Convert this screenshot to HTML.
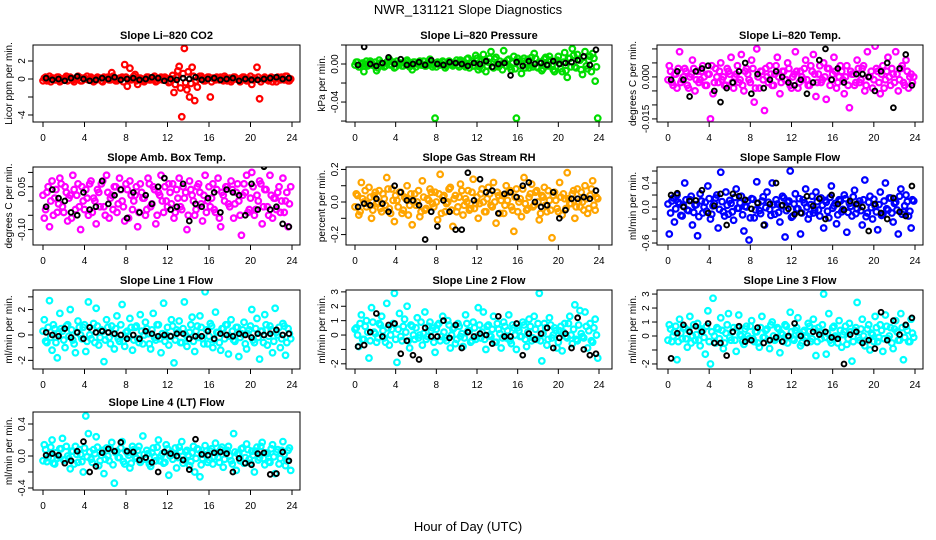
<!DOCTYPE html>
<html><head><meta charset="utf-8"><style>
html,body{margin:0;padding:0;background:#fff;}
svg{display:block;font-family:"Liberation Sans",sans-serif;}
</style></head><body>
<svg id="c" width="936" height="540" viewBox="0 0 936 540">
<text x="468" y="14" text-anchor="middle" font-size="13">NWR_131121  Slope Diagnostics</text>
<text x="468" y="531" text-anchor="middle" font-size="13">Hour of Day (UTC)</text>
</svg>
<script>
// hour tick values shared by all panels
const hourTicks = [0,4,8,12,16,20,24];
// colored series sampled every 0.25 h starting 0.125 h; core series every 0.25 h starting 0 h; black series every 0.6 h starting 0.3 h
const co2Red = [0.1,-0.2,0.3,0.1,-0.1,0.2,-0.3,0.0,0.1,-0.2,0.2,-0.1,0.0,0.3,-0.2,0.1,0.0,-0.1,0.2,-0.3,0.1,0.0,-0.2,0.2,0.1,-0.1,0.7,0.0,-0.2,0.1,0.2,1.6,-0.8,1.2,0.0,0.5,-0.6,0.1,-0.2,0.0,0.2,-0.1,0.1,-0.3,0.0,0.2,-0.1,0.1,-0.4,0.0,-1.5,0.2,1.4,-4.2,3.4,-1.2,-2.0,1.3,-2.4,-0.9,0.3,0.0,-0.2,0.2,-2.0,0.1,-0.1,0.0,0.2,-0.2,0.1,0.0,-0.3,0.2,0.0,-0.1,0.1,0.2,-0.2,0.0,-0.6,0.1,1.3,-2.2,0.0,0.2,-0.1,0.1,-0.3,0.0,0.2,-0.1,0.1,0.3,-0.2,0.0];
const co2RedCore = [-0.2,0.2,0.0,-0.3,0.1,-0.1,0.2,-0.2,0.0,0.3,-0.1,0.1,-0.3,0.0,0.2,-0.2,0.1,0.3,-0.1,0.0,-0.2,0.2,0.1,-0.3,0.0,0.2,-0.1,0.3,-0.2,0.0,0.1,-0.3,0.2,0.0,-0.1,0.3,-0.2,0.1,0.0,-0.3,0.2,-0.1,0.0,0.3,-0.2,0.1,-0.1,0.2,0.0,-0.3,0.4,-0.6,0.9,-1.0,0.6,-0.4,0.8,-0.5,0.3,-0.2,0.1,0.3,-0.2,0.0,0.2,-0.3,0.1,0.2,-0.1,0.0,0.3,-0.2,0.1,-0.1,0.2,0.0,-0.3,0.2,0.1,-0.2,0.3,-0.1,0.0,0.2,-0.3,0.1,0.0,-0.2,0.2,0.1,-0.3,0.0,0.2,-0.1,0.3,-0.2];
const co2Black = [0.1,-0.1,0.0,-0.2,0.1,0.3,0.0,-0.2,-0.1,0.1,0.0,0.2,-0.1,0.0,0.1,-0.1,0.0,0.2,0.1,-0.2,0.0,-0.1,0.1,0.0,0.2,-0.1,0.0,0.1,-0.1,0.0,0.1,-0.2,0.0,-0.1,-0.1,0.0,0.1,0.2,0.0,0.1];
const presGreen = [2,-3,0,-8,3,-1,1,-2,-7,4,0,-3,2,5,-1,-4,3,0,-2,1,4,-3,-6,2,0,3,-1,-2,1,5,-3,-57,2,-1,3,-4,0,2,-2,1,-1,4,0,-3,6,1,-2,9,-6,3,10,-8,2,13,-4,7,-3,0,14,-2,5,-6,8,-57,3,-10,6,1,-4,7,11,-3,2,-7,5,0,8,-2,-8,4,1,-8,12,-14,6,16,-3,10,4,-11,13,-5,8,11,-18,-57];
const presGreenCore = [-1,2,-3,1,0,-2,3,-1,2,-4,1,0,-2,3,-1,2,-3,0,1,-2,3,-1,0,2,-3,1,-1,3,-2,0,2,-1,-3,1,0,2,-2,3,-1,0,4,-3,2,-1,5,-4,3,-2,6,-3,-5,4,-2,6,-3,5,-1,3,-6,2,4,-3,1,-5,6,-2,3,-4,5,-1,-3,6,-4,2,-5,7,-2,4,-6,3,8,-5,2,-7,6,-3,9,-4,5,-6,7,-2,4,-8,6,-3];
const presBlack = [-1,18,0,-2,1,7,0,5,-1,0,2,-1,4,0,-1,2,1,0,-2,1,0,3,-3,0,1,-12,2,-2,3,0,1,-1,3,0,1,2,4,8,-1,15];
const tempMagenta = [4,-2,1,-4,9,-1,3,-3,0,6,-5,2,-1,4,-3,1,-15,-6,3,-2,5,0,-3,2,7,-4,1,-2,8,-5,3,-1,6,-9,10,-4,2,-12,0,4,-3,1,7,-6,2,-1,5,-3,0,9,-4,2,-1,6,-3,4,8,-7,1,-2,5,-8,3,-1,7,-4,0,2,-6,4,-11,1,-3,6,-2,3,-5,9,0,-4,11,2,-6,4,-1,7,-3,1,9,-5,3,-2,6,-4,1,0];
const tempMagentaCore = [-1,2,-3,1,3,-2,0,2,-4,1,3,-1,-2,2,0,-3,1,4,-2,0,2,-1,-3,3,1,-2,0,4,-1,-3,2,1,-2,3,-4,0,2,-1,3,-2,1,-3,4,0,-2,2,-1,3,-4,1,2,-2,0,3,-1,-3,2,1,-2,4,-1,0,3,-3,1,2,-2,4,-1,0,-3,2,1,-2,3,-1,4,-3,0,2,-1,3,-2,1,-4,2,0,3,-2,1,-1,4,-3,2,0,-2];
const tempBlack = [-1,2,-1,-7,2,3,4,-5,-9,-4,-2,2,5,-6,1,-4,-1,2,0,-2,-3,-1,-6,-2,6,10,-1,3,-2,-20,1,1,0,-5,2,5,-11,3,8,-3];
const boxMagenta = [-6,3,-9,7,1,-4,8,-2,5,-7,2,9,-3,6,-10,0,4,-5,7,1,-8,3,6,-2,9,-6,2,5,-4,8,0,-7,4,7,-3,2,-9,6,1,-5,8,-2,5,-8,3,9,-4,0,6,-1,-6,4,8,-3,1,-10,7,2,-5,5,3,-7,9,0,-2,6,-4,8,-9,2,5,-1,7,-6,3,0,-12,6,9,-3,10,-5,2,7,-8,4,-2,9,-6,1,3,-4,8,0,-9,5];
const boxMagentaCore = [2,-3,5,0,-5,4,-1,6,-4,3,1,-6,4,2,-2,5,-3,1,6,-4,0,4,-2,7,-5,3,1,-3,5,-1,4,-2,6,-6,2,0,5,-4,3,1,-3,6,-1,4,-5,2,0,5,-2,3,6,-4,1,-2,5,3,-5,4,0,-3,6,-1,2,-4,5,1,-3,4,-6,3,0,5,-2,4,-1,6,-5,2,3,-4,1,5,-3,0,6,-2,4,-5,2,1,-3,5,0,-4,3,-1];
const boxBlack = [-2,4,1,0,-4,-5,3,-3,-2,7,-1,2,4,-6,3,-4,2,-1,5,8,-3,-2,6,-7,-1,-2,1,3,-4,4,3,2,-5,6,-3,12,-3,-2,-8,-9];
const rhOrange = [5,-8,12,0,-3,9,-10,4,-1,7,-6,2,15,-4,8,-12,1,6,-7,3,10,-2,-14,5,0,-9,13,-5,2,8,-1,6,-11,17,3,-6,0,9,-15,4,-3,11,-8,2,7,-4,14,-1,-10,5,0,-6,9,-2,12,-13,4,1,-7,10,6,-3,-18,8,0,-9,15,-5,3,11,-2,7,-11,4,9,-6,1,-22,6,-4,12,-8,2,18,-1,5,-10,8,-3,0,10,-7,4,13,-5,2];
const rhOrangeCore = [-3,4,-6,2,7,-1,3,-5,6,0,-4,5,-2,8,-7,1,4,-3,6,-5,2,-8,5,0,-2,7,-6,3,-4,1,6,-3,0,5,-7,4,-1,8,-5,2,-6,3,7,-2,0,-5,6,-4,3,-1,8,-6,2,5,-3,0,6,-7,4,-2,1,7,-5,3,-6,2,8,-1,-4,5,-3,6,0,-7,3,-2,7,-5,4,1,-6,3,5,-4,2,-1,7,-3,0,6,-5,2,-4,8,-2,3];
const rhBlack = [-3,-1,-2,2,-1,-6,10,6,1,1,-2,-23,-6,-15,1,-6,-17,-17,18,1,14,6,7,-7,5,6,3,10,12,0,-3,-2,6,-10,-5,2,2,3,2,7];
const sampleBlue = [-45,10,-25,20,5,-15,40,-5,12,-30,3,-48,22,-10,8,35,-20,2,15,-35,58,-8,25,-12,6,-22,30,-2,18,-40,0,-55,14,-18,42,-6,10,-30,25,-4,40,-12,5,-25,18,-50,8,60,-15,22,-3,-45,12,30,-20,4,-10,25,-5,15,-35,8,-18,35,2,-28,12,-8,20,-42,6,-15,28,-3,10,-30,45,-10,18,-20,2,-38,25,-12,40,-5,15,-25,8,-45,30,-8,20,-15,-35,10];
const sampleBlueCore = [5,-10,15,-3,8,-14,2,12,-6,18,-9,4,-16,10,0,-7,14,-12,6,20,-4,9,-15,3,11,-8,16,-2,7,-13,1,10,-18,13,-5,6,-11,17,-1,8,-14,4,12,-9,2,15,-6,10,-17,5,-3,14,-10,7,0,-12,18,-5,9,-15,3,11,-7,16,-2,6,-13,10,-4,14,-9,1,17,-11,5,-6,12,-16,8,-1,13,-8,4,-14,10,-3,15,-10,6,-5,18,-12,2,9,-7,12];
const sampleBlack = [20,23,0,10,11,28,-10,2,22,-30,22,18,12,-3,7,-30,5,40,3,-3,-12,-10,18,2,14,-20,20,5,-5,10,5,0,-40,5,-10,-20,15,-8,-15,35];
const line1Cyan = [12,-6,27,-12,5,-18,17,3,-10,8,20,-4,-14,11,0,6,-13,26,-3,9,21,-8,4,-21,12,-2,7,-11,15,-5,24,-9,3,13,-12,6,-3,16,-7,10,1,-11,17,-4,8,-14,25,0,-8,12,-22,4,11,-6,26,-9,2,14,-13,7,15,-3,34,-7,9,-10,18,2,-12,5,8,-15,12,-4,6,-17,1,10,-11,4,20,-6,13,-19,3,16,-8,7,-14,21,0,-10,9,-16,5,-3];
const line1CyanCore = [3,-5,6,-2,8,-6,1,5,-4,7,-1,4,-7,2,6,-3,8,-5,0,4,-6,7,-2,3,-4,6,-7,1,5,-3,8,-5,2,-1,6,-4,7,-6,3,0,5,-7,4,-2,8,-3,1,-5,6,-1,7,-4,2,-6,5,0,-3,8,-5,3,-2,6,-7,4,-1,7,-4,2,-6,5,-3,8,-1,3,-5,6,-2,4,-7,1,7,-4,5,-2,3,-6,8,-1,4,-5,2,6,-3,7,-6,1];
const line1Black = [2,0,-1,5,-2,2,-3,6,2,3,2,1,0,-3,0,-3,3,1,-1,0,-1,1,1,-3,-1,-1,3,-3,1,0,-1,1,0,-2,1,0,1,4,0,1];
const line2Cyan = [5,-8,14,-3,10,-16,19,2,-5,8,13,-2,22,-7,4,29,-19,15,-4,11,20,-9,6,-3,12,0,-7,16,-1,9,5,-12,7,-4,13,-2,10,-9,4,-6,8,-1,-8,14,3,-5,9,-3,19,-2,16,-10,7,-1,13,-5,4,-9,9,-2,14,-6,5,-10,3,-1,7,-8,11,-4,13,-3,29,-18,8,-7,12,-2,5,-9,3,-11,8,-2,13,-6,21,-4,17,-1,16,-9,8,-5,11,-16];
const line2CyanCore = [4,0,8,-3,6,2,-4,9,1,-2,7,3,-5,5,0,8,-3,4,-1,6,2,-4,7,0,5,-2,9,1,-3,6,3,-5,4,8,-1,2,-4,7,0,5,-3,6,1,-2,8,3,-4,5,-1,7,2,-3,6,0,4,-5,8,1,-2,6,3,-4,7,0,5,-1,9,-3,2,6,-2,4,8,-4,1,5,-3,7,0,3,-5,6,2,-1,8,0,4,-3,7,1,-2,6,3,-4,5,0];
const line2Black = [-8,-7,2,15,-1,7,8,-13,-4,-14,-17,5,-1,-1,10,-2,7,-9,2,-1,1,0,-6,13,-1,-1,8,-14,1,-3,1,5,-9,-2,1,-9,12,-10,-14,-13];
const line3Cyan = [8,-4,3,-17,12,-2,6,-8,14,0,-3,9,-7,4,-13,18,-20,27,-5,5,13,-9,2,16,-3,6,-11,15,0,-6,7,-2,11,-4,3,-8,14,-1,5,-9,10,-3,6,-12,1,8,-5,17,-2,4,13,-7,3,-1,9,-4,12,-14,6,-2,30,-13,16,-5,7,-1,11,-8,3,-6,9,-18,4,24,-3,12,-7,5,-10,1,14,-4,8,-11,15,-2,6,-9,11,-3,16,-17,7,-4,12,-1];
const line3CyanCore = [-3,5,0,7,-4,2,6,-2,4,-5,8,1,-3,5,-1,7,-4,3,0,6,-2,4,-5,8,-1,3,-3,6,1,-4,5,0,7,-2,3,-5,6,-1,4,-3,8,0,-2,5,2,-4,7,-1,3,-3,6,1,-5,4,0,7,-2,5,-4,3,8,-1,2,-3,6,0,-5,4,1,7,-2,3,-4,6,-1,5,0,-3,8,2,-4,6,-1,4,-2,7,0,-5,5,3,-3,6,-1,4,-4,2];
const line3Black = [-16,2,8,3,7,3,9,-5,-5,-14,3,7,-4,-3,6,-5,-3,-1,-4,0,9,0,-5,3,1,3,-1,-2,-20,1,3,-5,-3,-9,17,-3,11,1,8,13];
const line4Cyan = [14,-7,3,20,-10,-3,9,22,-5,0,-16,6,12,-8,2,-20,50,28,-4,8,24,-12,1,-22,10,-6,17,-34,6,-2,18,-10,4,-15,12,-1,7,-8,25,-4,3,-13,10,-6,20,0,-9,14,-24,5,2,-15,11,18,-5,7,-12,4,-20,9,-26,-3,13,-8,6,-10,16,-2,8,-14,4,12,-6,28,-18,3,9,-9,15,-4,6,-20,11,-2,17,-11,3,-8,14,-22,8,-3,18,-12,7,-18];
const line4CyanCore = [-6,8,-2,11,-9,4,0,9,-5,12,-3,6,-10,2,8,-7,10,-1,5,-8,3,11,-6,7,-4,0,9,-11,4,-2,10,-7,6,1,-9,8,-3,12,-5,2,7,-10,4,-1,11,-6,3,-8,9,0,-4,10,-2,6,-9,5,1,-7,12,-3,8,-11,2,6,-5,9,-1,4,-8,11,-4,7,0,-10,5,3,-6,10,-2,8,-9,1,6,-5,12,-3,4,-7,9,-1,5,-10,7,2,-6,10];
const line4Black = [1,3,1,-9,-6,6,18,-20,-13,4,9,6,17,6,5,-5,-2,-8,-20,5,3,0,-5,-17,21,2,1,4,5,3,-20,-3,-9,-11,3,4,-23,-22,5,-6];
// y tick values (in each panel's stored units) and their printed labels
const co2Ticks = [2,0,-2,-4];        const co2Labels = ["2","0","","-4"];
const presTicks = [20,0,-20,-40,-60]; const presLabels = ["","0.00","","-0.04",""];
const tempTicks = [10,5,0,-5,-10,-15]; const tempLabels = ["","","0.000","","","-0.015"];
const boxTicks = [10,5,0,-5,-10];    const boxLabels = ["","0.05","","","-0.10"];
const rhTicks = [20,10,0,-10,-20];   const rhLabels = ["0.2","","0.0","","-0.2"];
const sampleTicks = [60,40,20,0,-20,-40,-60]; const sampleLabels = ["","0.4","","0.0","","","-0.6"];
const line1Ticks = [30,20,10,0,-10,-20]; const line1Labels = ["","2","","0","","-2"];
const line2Ticks = [30,20,10,0,-10,-20]; const line2Labels = ["3","2","1","0","","-2"];
const line3Ticks = [30,20,10,0,-10,-20]; const line3Labels = ["3","2","1","0","","-2"];
const line4Ticks = [40,20,0,-20,-40]; const line4Labels = ["0.4","","0.0","","-0.4"];

const NS = "http://www.w3.org/2000/svg";
const svg = document.getElementById('c');
const cols = [{l:33,r:300,x0:43,x1:292},{l:346,r:612,x0:355,x1:599},{l:657,r:923,x0:668,x1:915}];
const rows = [{t:45,b:122},{t:167,b:245},{t:290,b:369},{t:412,b:490}];
const panels = [
 {name:'co2',title:'Slope Li\u2013820 CO2',ylab:'Licor ppm per min.',col:0,row:0,color:'#ff0000',ymax:3.78,ymin:-4.78,c:co2Red,cc:co2RedCore,k:co2Black,ticks:co2Ticks,labels:co2Labels},
 {name:'pressure',title:'Slope Li\u2013820 Pressure',ylab:'kPa per min.',col:1,row:0,color:'#00dd00',ymax:20,ymin:-61,c:presGreen,cc:presGreenCore,k:presBlack,ticks:presTicks,labels:presLabels},
 {name:'li820-temp',title:'Slope Li\u2013820 Temp.',ylab:'degrees C per min.',col:2,row:0,color:'#ff00ff',ymax:11.4,ymin:-16.1,c:tempMagenta,cc:tempMagentaCore,k:tempBlack,ticks:tempTicks,labels:tempLabels},
 {name:'amb-box-temp',title:'Slope Amb. Box Temp.',ylab:'degrees C per min.',col:0,row:1,color:'#ff00ff',ymax:11.9,ymin:-15.4,c:boxMagenta,cc:boxMagentaCore,k:boxBlack,ticks:boxTicks,labels:boxLabels},
 {name:'gas-stream-rh',title:'Slope Gas Stream RH',ylab:'percent per min.',col:1,row:1,color:'#ffa500',ymax:21.5,ymin:-26.4,c:rhOrange,cc:rhOrangeCore,k:rhBlack,ticks:rhTicks,labels:rhLabels},
 {name:'sample-flow',title:'Slope Sample Flow',ylab:'ml/min per min.',col:2,row:1,color:'#0000ff',ymax:66.7,ymin:-63.3,c:sampleBlue,cc:sampleBlueCore,k:sampleBlack,ticks:sampleTicks,labels:sampleLabels},
 {name:'line1-flow',title:'Slope Line 1 Flow',ylab:'ml/min per min.',col:0,row:2,color:'#00ffff',ymax:35.4,ymin:-26.8,c:line1Cyan,cc:line1CyanCore,k:line1Black,ticks:line1Ticks,labels:line1Labels},
 {name:'line2-flow',title:'Slope Line 2 Flow',ylab:'ml/min per min.',col:1,row:2,color:'#00ffff',ymax:31.3,ymin:-23.6,c:line2Cyan,cc:line2CyanCore,k:line2Black,ticks:line2Ticks,labels:line2Labels},
 {name:'line3-flow',title:'Slope Line 3 Flow',ylab:'ml/min per min.',col:2,row:2,color:'#00ffff',ymax:32.9,ymin:-23.6,c:line3Cyan,cc:line3CyanCore,k:line3Black,ticks:line3Ticks,labels:line3Labels},
 {name:'line4-flow',title:'Slope Line 4 (LT) Flow',ylab:'ml/min per min.',col:0,row:3,color:'#00ffff',ymax:55,ymin:-42.5,c:line4Cyan,cc:line4CyanCore,k:line4Black,ticks:line4Ticks,labels:line4Labels}
];
function mk(tag, attrs, parent){
  const e = document.createElementNS(NS, tag);
  for (const a in attrs) e.setAttribute(a, attrs[a]);
  parent.appendChild(e);
  return e;
}
panels.forEach(p => {
  const C = cols[p.col], R = rows[p.row];
  const g = mk('g', {}, svg);
  
  
  const xs = h => C.x0 + (h/24)*(C.x1 - C.x0);
  const ys = v => R.t + (p.ymax - v)/(p.ymax - p.ymin)*(R.b - R.t);
  const t = mk('text', {x:(C.l+C.r)/2, y:R.t-6, 'text-anchor':'middle', 'font-size':11, 'font-weight':'bold'}, g);
  t.textContent = p.title;
  
  
  const yl = mk('text', {x:0, y:0, 'text-anchor':'middle', 'font-size':10, transform:`translate(${C.l-21},${(R.t+R.b)/2}) rotate(-90)`}, g);
  yl.textContent = p.ylab;
  
  
  hourTicks.forEach(h => {
    const x = xs(h);
    mk('line', {x1:x, x2:x, y1:R.b, y2:R.b+5, stroke:'#000'}, g);
    const tl = mk('text', {x:x, y:R.b+19, 'text-anchor':'middle', 'font-size':10}, g);
    tl.textContent = h;
    
    
  });
  p.ticks.forEach((v, i) => {
    const y = ys(v);
    mk('line', {x1:C.l-5, x2:C.l, y1:y, y2:y, stroke:'#000'}, g);
    if (p.labels[i]) {
      const tl = mk('text', {x:0, y:0, 'text-anchor':'middle', 'font-size':10, transform:`translate(${C.l-8},${y}) rotate(-90)`}, g);
      tl.textContent = p.labels[i];
      
      
    }
  });
  const clipId = 'clip-' + p.name;
  const cp = mk('clipPath', {id:clipId}, g);
  mk('rect', {x:C.l, y:R.t, width:C.r-C.l, height:R.b-R.t}, cp);
  const pts = mk('g', {'clip-path':`url(#${clipId})`}, g);
  p.cc.forEach((v, i) => {
    const c = mk('circle', {cx:xs(i*0.25), cy:ys(v), r:2.8, fill:'none', stroke:p.color, 'stroke-width':2.2}, pts);
    
    
  });
  p.c.forEach((v, i) => {
    const c = mk('circle', {cx:xs(0.125 + i*0.25), cy:ys(v), r:2.8, fill:'none', stroke:p.color, 'stroke-width':2.2}, pts);
    
    
  });
  p.k.forEach((v, i) => {
    const c = mk('circle', {cx:xs(0.3 + i*0.6), cy:ys(v), r:2.4, fill:'none', stroke:'#000', 'stroke-width':1.9}, pts);
    
    
  });
  const box = mk('rect', {x:C.l, y:R.t, width:C.r-C.l, height:R.b-R.t, fill:'none', stroke:'#000', 'stroke-width':1}, g);
  
  
});
</script>
</body></html>
